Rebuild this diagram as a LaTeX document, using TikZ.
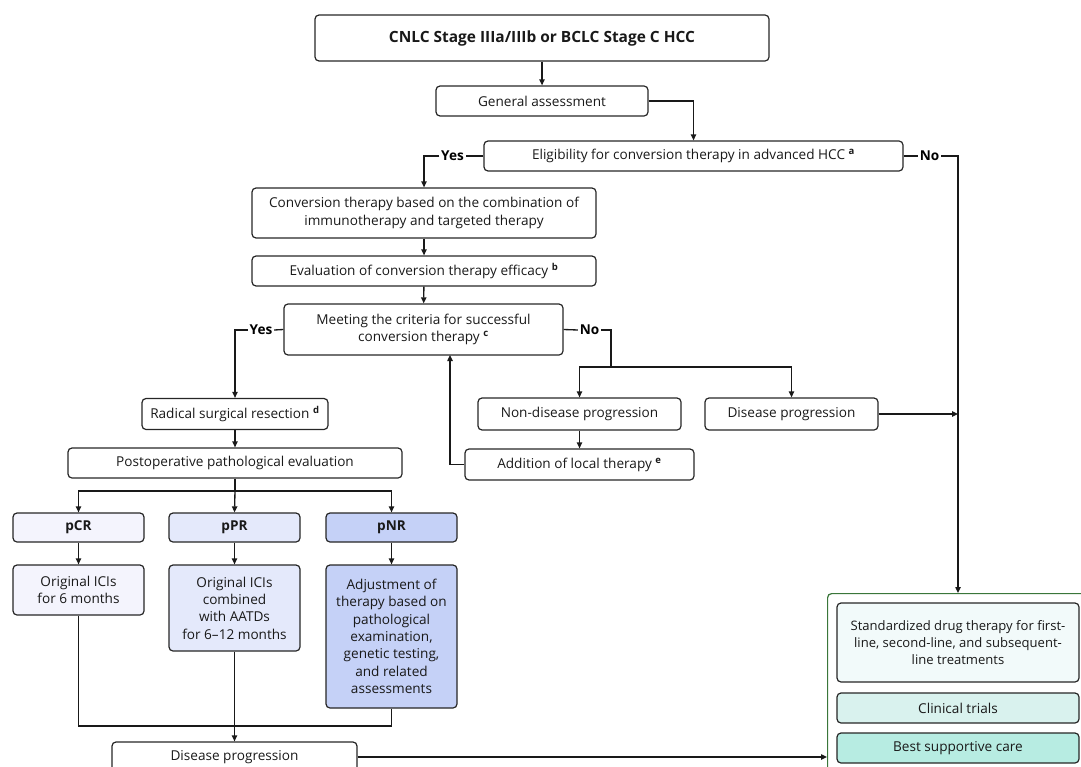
\documentclass[tikz,border=0pt]{standalone}
\usepackage{fontspec}
\setmainfont{Open Sans}
\usetikzlibrary{arrows.meta}

\definecolor{pcrfill}{RGB}{244,244,253}
\definecolor{pprfill}{RGB}{228,233,251}
\definecolor{pnrfill}{RGB}{197,209,247}
\definecolor{stdfill}{RGB}{242,250,250}
\definecolor{clinfill}{RGB}{217,242,238}
\definecolor{bestfill}{RGB}{183,236,226}
\definecolor{careline}{RGB}{58,118,58}
\newcommand{\supnote}[1]{\textsuperscript{\bfseries #1}}

\begin{document}
\begin{tikzpicture}[x=0.75pt,y=0.75pt,yscale=-1,
  flowbox/.style={draw=black!85,line width=0.9pt,rounded corners=3pt,align=center,
    inner sep=0pt,text=black!90,font=\fontsize{10.2}{13}\selectfont},
  wd/.style={minimum width=#1*0.75pt},
  ht/.style={minimum height=#1*0.75pt},
  yesno/.style={font=\bfseries\fontsize{10.2}{11}\selectfont,inner xsep=1.2pt,inner ysep=0pt},
  link/.style={line width=1pt,draw=black!90},
  arr/.style={link,-{Triangle[length=4.5pt,width=4pt]}}]

\useasboundingbox (0,0) rectangle (1081,767);
\clip (0,0) rectangle (1081,767);

%Box: entry
\node[flowbox,wd=454,ht=46,font=\bfseries\fontsize{11.6}{13}\selectfont] (stage) at (542,38) {CNLC Stage IIIa/IIIb or BCLC Stage C HCC};
\node[flowbox,wd=212,ht=30] (assess) at (542,101) {General assessment};
\node[flowbox,wd=419,ht=30] (elig) at (693.5,156) {Eligibility for conversion therapy in advanced HCC \supnote{a}};
\node[yesno] (yes1) at (452.5,156) {Yes};
\node[yesno] (no1) at (929.5,156) {No};

%Box: conversion branch
\node[flowbox,wd=344,ht=50] (conv) at (424,213) {Conversion therapy based on the combination of\\immunotherapy and targeted therapy};
\node[flowbox,wd=344,ht=30] (eval) at (424,271) {Evaluation of conversion therapy efficacy \supnote{b}};
\node[flowbox,wd=279,ht=51] (meet) at (423.5,329.5) {Meeting the criteria for successful\\conversion therapy \supnote{c}};
\node[yesno] (yes2) at (261,330) {Yes};
\node[yesno] (no2) at (589.5,330) {No};

%Box: failed criteria
\node[flowbox,wd=203,ht=32] (nondis) at (579.5,414) {Non-disease progression};
\node[flowbox,wd=173,ht=32] (dis) at (791.5,414) {Disease progression};
\node[flowbox,wd=229,ht=31] (local) at (579.5,464.5) {Addition of local therapy \supnote{e}};

%Box: surgery
\node[flowbox,wd=186,ht=31] (resect) at (235,414) {Radical surgical resection \supnote{d}};
\node[flowbox,wd=334,ht=30] (patho) at (235,463) {Postoperative pathological evaluation};

%Box: response groups
\node[flowbox,wd=131,ht=29,fill=pcrfill,font=\bfseries\fontsize{10.2}{13}\selectfont] (pcr) at (78.5,527.5) {pCR};
\node[flowbox,wd=131,ht=29,fill=pprfill,font=\bfseries\fontsize{10.2}{13}\selectfont] (ppr) at (234.5,527.5) {pPR};
\node[flowbox,wd=131,ht=29,fill=pnrfill,font=\bfseries\fontsize{10.2}{13}\selectfont] (pnr) at (391.5,527.5) {pNR};
\node[flowbox,wd=131,ht=50,fill=pcrfill] (pcrtx) at (78.5,590) {Original ICIs\\for 6 months};
\node[flowbox,wd=131,ht=86,fill=pprfill] (pprtx) at (234.5,608) {Original ICIs\\combined\\with AATDs\\for 6--12 months};
\node[flowbox,wd=131,ht=143,fill=pnrfill] (pnrtx) at (391.5,636.5) {Adjustment of\\therapy based on\\pathological\\examination,\\genetic testing,\\and related\\assessments};
\node[flowbox,wd=245,ht=30] (relapse) at (234.5,757) {Disease progression};

%Box: systemic care
\node[draw=careline,line width=0.9pt,rounded corners=3pt,minimum width=270*0.75pt,minimum height=200*0.75pt,anchor=north west] (care) at (827,593) {};
\node[flowbox,wd=242,ht=79,fill=stdfill,font=\fontsize{9.8}{13}\selectfont] (std) at (958,642.5) {Standardized drug therapy for first-\\line, second-line, and subsequent-\\line treatments};
\node[flowbox,wd=242,ht=30,fill=clinfill] (trial) at (958,708) {Clinical trials};
\node[flowbox,wd=242,ht=30,fill=bestfill] (bsc) at (958,748) {Best supportive care};

\coordinate (caretop) at (958,593);
\coordinate (carein) at (958,414);
\coordinate (nosplit) at (611,367);
\coordinate (loopin) at (450,355);
\coordinate (psplit) at (235,491);
\coordinate (pjoin) at (235,726);

%Straight Lines
\draw[arr] (stage) -- (assess);
\draw[arr] (assess.east) -| (elig.north);
\draw[link] (elig.west) -- (yes1.east);
\draw[arr] (yes1.west) -| (conv.north);
\draw[link] (elig.east) -- (no1.west);
\draw[arr] (no1.east) -| (caretop);
\draw[arr] (conv) -- (eval);
\draw[arr] (eval) -- (meet);
\draw[link] (meet.west) -- (yes2.east);
\draw[arr] (yes2.west) -| (resect.north);
\draw[link] (meet.east) -- (no2.west);
\draw[link] (no2.east) -| (nosplit);
\draw[arr] (nosplit) -| (nondis.north);
\draw[arr] (nosplit) -| (dis.north);
\draw[arr] (dis.east) -- (carein);
\draw[arr] (nondis) -- (local);
\draw[arr] (local.west) -| (loopin);
\draw[arr] (resect) -- (patho);
\draw[link] (patho.south) -- (psplit);
\draw[arr] (psplit) -| (pcr.north);
\draw[arr] (psplit) -- (ppr.north);
\draw[arr] (psplit) -| (pnr.north);
\draw[arr] (pcr) -- (pcrtx);
\draw[arr] (ppr) -- (pprtx);
\draw[arr] (pnr) -- (pnrtx);
\draw[link] (pcrtx.south) |- (pjoin);
\draw[link] (pnrtx.south) |- (pjoin);
\draw[arr] (pprtx) -- (relapse);
\draw[arr] (relapse.east) -- (relapse.east -| care.west);
\end{tikzpicture}
\end{document}
